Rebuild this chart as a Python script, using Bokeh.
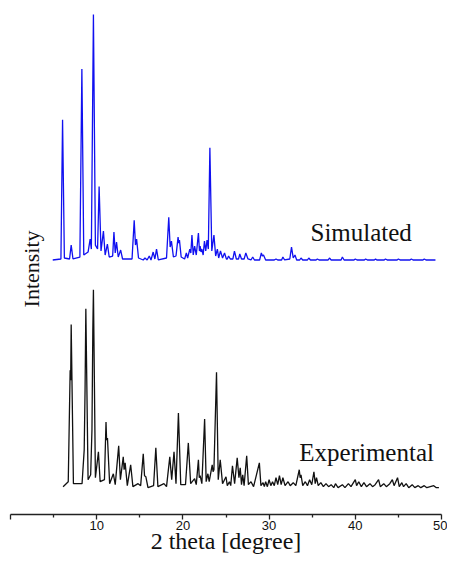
import math
from bokeh.plotting import figure
from bokeh.models import Range1d, FixedTicker, ColumnDataSource
from bokeh.core.properties import value
from bokeh.embed import file_html
from bokeh.resources import INLINE

# ---- data (2-theta in degrees, intensity in arbitrary units) ----
sim_2theta = [4.9, 5.85, 6.04, 6.25, 6.85, 7.04, 7.25, 8.05, 8.28, 8.5, 9.0, 9.24, 9.38, 9.62, 9.85,
              10.1, 10.28, 10.5, 10.78, 10.98, 11.24, 11.45, 11.85, 12.0, 12.15, 12.3, 12.5, 12.78, 13.0,
              14.1, 14.35, 14.5, 14.63, 14.85, 15.4, 15.6, 15.85, 16.1, 16.3, 16.55, 16.75, 16.94, 17.15,
              18.1, 18.36, 18.52, 18.67, 18.9, 19.2, 19.44, 19.52, 19.6, 19.8, 20.2, 20.4, 20.55, 20.8,
              20.92, 21.05, 21.2, 21.36, 21.55, 21.8, 21.92, 22.0, 22.1, 22.2, 22.35, 22.5, 22.65, 22.8,
              22.95, 23.13, 23.35, 23.6, 23.8, 24.0, 24.15, 24.36, 24.6, 24.83, 25.05, 25.15, 25.3, 25.5,
              25.8, 25.98, 26.2, 26.45, 26.6, 26.8, 27.1, 27.3, 27.55, 27.9, 28.1, 28.3, 28.9, 29.1,
              29.22, 29.35, 29.6, 30.6, 30.8, 31.0, 31.45, 31.6, 31.8, 32.4, 32.6, 32.8, 33.0, 33.2,
              33.55, 33.7, 33.9, 34.45, 34.6, 34.8, 35.45, 35.6, 35.8, 36.85, 37.0, 37.2, 38.35, 38.5,
              38.7, 39.85, 40.0, 40.2, 41.05, 41.2, 41.4, 42.2, 42.35, 42.5, 43.35, 43.5, 43.7, 44.85,
              45.0, 45.2, 46.35, 46.5, 46.7, 47.85, 48.0, 48.2, 49.3]
sim_intensity = [1, 2, 142, 3, 2, 16, 2, 4, 193, 6, 9, 22, 12, 248, 16,
                 12, 75, 10, 30, 6, 17, 4, 5, 29, 8, 19, 4, 11, 2,
                 2, 41, 16, 22, 3, 1, 3, 1, 5, 1, 9, 2, 12, 1,
                 3, 44, 14, 20, 4, 5, 24, 18, 21, 4, 2, 8, 3, 12,
                 8, 26, 6, 15, 6, 28, 10, 15, 9, 12, 6, 20, 10, 21,
                 12, 114, 10, 26, 5, 12, 3, 10, 3, 8, 2, 2, 5, 2,
                 2, 10, 2, 2, 7, 2, 2, 8, 2, 1, 4, 1, 1, 8,
                 5, 6, 1, 1, 2, 1, 1, 4, 1, 2, 14, 3, 6, 1,
                 1, 3, 1, 1, 3, 1, 1, 2, 1, 1, 3, 1, 1, 4,
                 1, 1, 2, 1, 1, 2, 1, 1, 2, 1, 1, 2, 1, 1,
                 2, 1, 1, 2, 1, 1, 2, 1, 1]

exp_2theta = [6.1, 6.7, 6.92, 6.98, 7.04, 7.3, 8.3, 8.55, 8.65, 8.74, 9.0, 9.3, 9.45, 9.55, 9.62, 9.85,
              10.2, 10.4, 10.9, 11.08, 11.15, 11.25, 11.5, 11.93, 12.15, 12.55, 12.75, 13.08, 13.18, 13.3,
              13.55, 13.94, 14.2, 14.8, 15.1, 15.4, 15.55, 15.7, 15.95, 16.6, 16.86, 17.1, 17.8, 18.1,
              18.48, 18.7, 18.97, 19.2, 19.48, 19.75, 20.3, 20.63, 20.9, 21.36, 21.55, 21.8, 21.9, 22.0,
              22.2, 22.52, 22.7, 22.9, 23.05, 23.4, 23.5, 23.6, 23.9, 24.1, 24.33, 24.6, 25.0, 25.15,
              25.4, 25.55, 25.75, 26.0, 26.3, 26.5, 26.65, 26.8, 26.94, 27.1, 27.4, 27.6, 27.9, 28.2,
              28.87, 29.05, 29.3, 29.45, 29.6, 29.8, 30.0, 30.2, 30.4, 30.6, 30.8, 31.0, 31.2, 31.4,
              31.6, 31.85, 32.2, 32.45, 32.8, 33.1, 33.5, 33.6, 33.7, 33.9, 34.2, 34.45, 34.7, 34.95,
              35.2, 35.35, 35.5, 35.7, 36.0, 36.3, 36.6, 36.9, 37.2, 37.5, 37.7, 38.0, 38.5, 38.8,
              39.2, 39.5, 40.0, 40.15, 40.4, 40.7, 41.0, 41.3, 41.7, 42.0, 42.3, 42.7, 42.9, 43.3,
              43.6, 44.0, 44.3, 44.5, 44.9, 45.1, 45.4, 45.6, 45.9, 46.2, 46.6, 46.9, 47.3, 47.6,
              48.0, 48.3, 48.7, 49.1, 49.4, 49.7]
exp_intensity = [3, 8, 120, 110, 166, 6, 6, 40, 100, 182, 10, 15, 60, 160, 201, 12,
                 38, 8, 10, 68, 50, 52, 6, 16, 5, 44, 10, 33, 20, 27,
                 4, 25, 3, 6, 4, 36, 14, 13, 2, 4, 42, 3, 6, 3,
                 33, 10, 38, 6, 77, 5, 5, 47, 6, 11, 5, 30, 12, 14,
                 6, 71, 8, 16, 8, 25, 18, 20, 118, 10, 30, 6, 13, 4,
                 8, 4, 24, 6, 32, 12, 22, 5, 15, 4, 34, 5, 8, 3,
                 27, 4, 7, 3, 8, 3, 10, 4, 8, 4, 12, 5, 14, 5,
                 12, 4, 8, 4, 7, 4, 20, 12, 15, 4, 8, 4, 10, 5,
                 18, 6, 12, 4, 7, 3, 6, 3, 5, 2, 6, 2, 5, 2,
                 6, 3, 10, 4, 8, 3, 7, 3, 6, 3, 5, 10, 3, 6,
                 3, 6, 10, 4, 12, 3, 7, 3, 6, 2, 5, 2, 4, 2,
                 4, 2, 3, 4, 2, 2]

x_ticks = [0, 10, 20, 30, 40, 50]
x_minor_ticks = [5, 15, 25, 35, 45]
series_labels = ["Simulated", "Experimental"]

# vertical offsets used to stack the two patterns
SIM_OFFSET = 255
EXP_OFFSET = 25

p = figure(width=447, height=556, output_backend="svg", toolbar_location=None,
           x_range=Range1d(0, 50), y_range=Range1d(0, 517),
           y_axis_location=None, min_border_top=0, min_border_left=10,
           min_border_right=6, min_border_bottom=0)
p.outline_line_color = None
p.grid.visible = False
p.background_fill_color = "white"
p.border_fill_color = "white"

sim_src = ColumnDataSource(dict(x=sim_2theta, y=[v + SIM_OFFSET for v in sim_intensity]))
exp_src = ColumnDataSource(dict(x=exp_2theta, y=[v + EXP_OFFSET for v in exp_intensity]))
p.line("x", "y", source=sim_src, line_color="#1010f0", line_width=1.3)
p.line("x", "y", source=exp_src, line_color="#111111", line_width=1.3)

serif = value("Liberation Serif")
p.text(x=[34.8], y=[284], text=[series_labels[0]], text_font=serif, text_font_size="25px",
       text_color="#111111", text_baseline="alphabetic", text_align="left")
p.text(x=[33.5], y=[62], text=[series_labels[1]], text_font=serif, text_font_size="25px",
       text_color="#111111", text_baseline="alphabetic", text_align="left")
p.text(x=[2.38], y=[247], text=["Intensity"], angle=math.pi / 2, text_font=serif,
       text_font_size="22px", text_color="#111111", text_baseline="middle", text_align="center")

ax = p.xaxis[0]
ax.ticker = FixedTicker(ticks=x_ticks, minor_ticks=x_minor_ticks)
ax.major_label_overrides = {0: ""}
ax.axis_label = "2 theta [degree]"
ax.axis_label_text_font = "Liberation Serif"
ax.axis_label_text_font_size = "24px"
ax.axis_label_text_font_style = "normal"
ax.axis_label_text_color = "#111111"
ax.axis_label_standoff = -5
ax.major_label_text_font = "Liberation Sans"
ax.major_label_text_font_size = "13px"
ax.major_label_text_color = "#111111"
ax.major_label_standoff = 1
ax.axis_line_color = "#222222"
ax.axis_line_width = 1.5
ax.major_tick_line_color = "#222222"
ax.minor_tick_line_color = "#222222"
ax.major_tick_line_width = 1.3
ax.minor_tick_line_width = 1.3
ax.major_tick_in = 0
ax.major_tick_out = 5
ax.minor_tick_in = 0
ax.minor_tick_out = 3

open("out.html", "w").write(file_html(p, INLINE))
